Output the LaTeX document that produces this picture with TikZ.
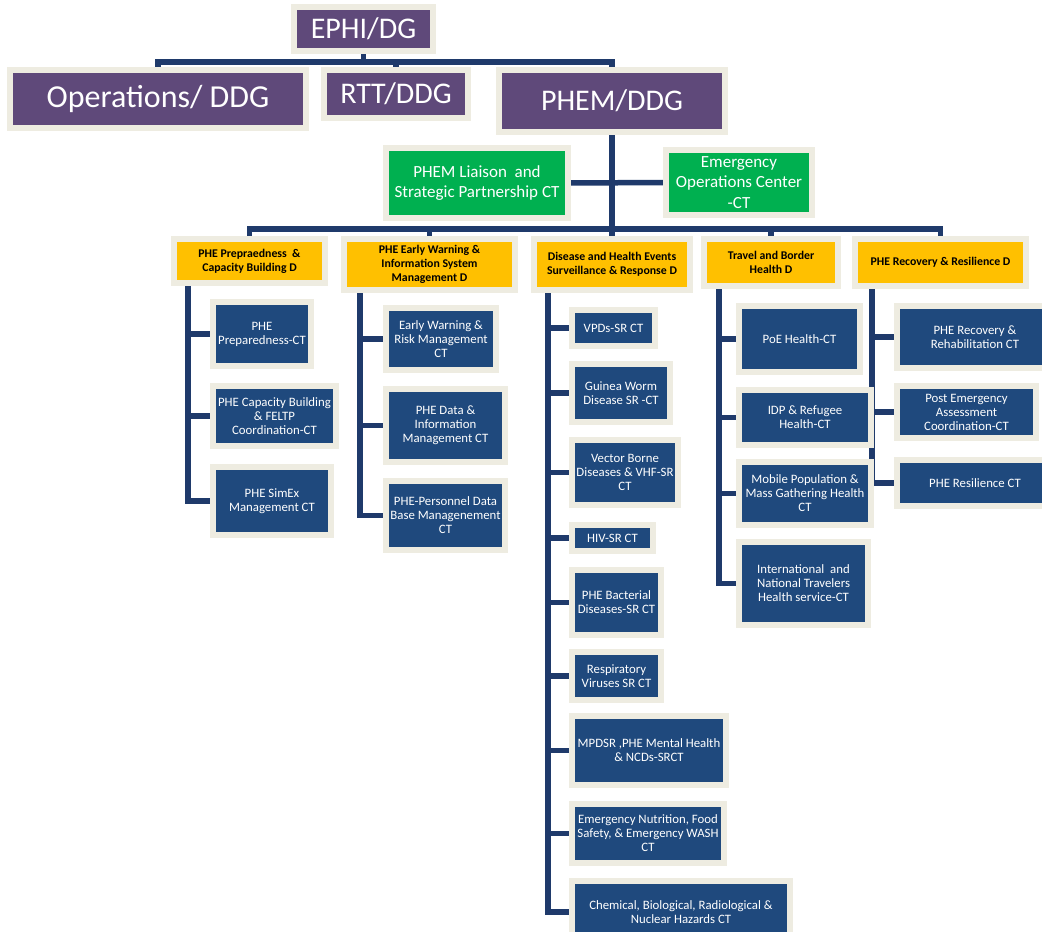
\documentclass[tikz,border=0pt]{standalone}
\usepackage{fontspec}
\setmainfont{Carlito}
\usetikzlibrary{backgrounds}
\definecolor{boxblue}{HTML}{1F497D}
\definecolor{conncol}{HTML}{1F3A6B}
\definecolor{purp}{HTML}{5F497A}
\definecolor{grn}{HTML}{00B050}
\definecolor{org}{HTML}{FFC000}
\definecolor{tanb}{HTML}{EEECE1}
\tikzset{
  base/.style={draw=tanb, line width=6pt, inner sep=0pt, outer sep=0pt, align=center, rectangle},
  purpbox/.style={base, fill=purp, text=white, font=\fontsize{30}{34}\selectfont},
  grnbox/.style={base, fill=grn, text=white, font=\fontsize{17}{20.5}\selectfont},
  hdbox/.style={base, fill=org, text=black, font=\fontsize{11.8}{14}\selectfont\bfseries},
  ctbox/.style={base, fill=boxblue, text=white, font=\fontsize{12.8}{14}\selectfont},
  conn/.style={draw=conncol, line width=5.5pt},
  sz/.style 2 args={minimum width=#1pt, minimum height=#2pt}
}
\begin{document}
\begin{tikzpicture}[x=1pt,y=-1pt]
\path[use as bounding box] (0,0) rectangle (1042,932);
\clip (0,0) rectangle (1042,932);
% top level
\node[purpbox, sz={139}{44}] (ephi) at (363.5,29) {EPHI/DG};
\node[purpbox, sz={296}{58}, font=\fontsize{32}{36}\selectfont] (ops) at (158,99) {Operations/ DDG};
\node[purpbox, sz={144}{48}] (rtt) at (396,94) {RTT/DDG};
\node[purpbox, sz={226}{62}] (phem) at (612,101) {PHEM/DDG};
\node[grnbox, sz={182}{70}] (liaison) at (477,183) {PHEM Liaison\ \ and\\Strategic Partnership CT};
\node[grnbox, sz={146}{65}] (eoc) at (739,182.5) {Emergency\\Operations Center\\-CT};
% directorates
\node[hdbox, sz={151}{44}] (hd1) at (249.5,261) {PHE Prepraedness\ \ \&\\Capacity Building D};
\node[hdbox, sz={171}{51}] (hd2) at (429.5,264.5) {PHE Early Warning \&\\Information System\\Management D};
\node[hdbox, sz={156}{51}] (hd3) at (612,264.5) {Disease and Health Events\\Surveillance \& Response D};
\node[hdbox, sz={134}{47}] (hd4) at (771,262.5) {Travel and Border\\Health D};
\node[hdbox, sz={171}{47}] (hd5) at (940.5,262.5) {PHE Recovery \& Resilience D};
% column 1
\node[ctbox, sz={98}{64}] (c11) at (262,334) {PHE\\Preparedness-CT};
\node[ctbox, sz={123}{60}] (c12) at (274.5,416) {PHE Capacity Building\\\& FELTP\\Coordination-CT};
\node[ctbox, sz={118}{68}] (c13) at (272,501) {PHE SimEx\\Management CT};
% column 2
\node[ctbox, sz={110}{62}] (c21) at (441,339) {Early Warning \&\\Risk Management\\CT};
\node[ctbox, sz={119}{73}] (c22) at (445.5,425.5) {PHE Data \&\\Information\\Management CT};
\node[ctbox, sz={119}{69}] (c23) at (445.5,515.5) {PHE-Personnel Data\\Base Managenement\\CT};
% column 3
\node[ctbox, sz={83}{36}] (c31) at (613.5,328) {VPDs-SR CT};
\node[ctbox, sz={98}{58}] (c32) at (621,393) {Guinea Worm\\Disease SR -CT};
\node[ctbox, sz={106}{65}] (c33) at (625,472.5) {Vector Borne\\Diseases \& VHF-SR\\CT};
\node[ctbox, sz={81}{26}] (c34) at (612.5,538) {HIV-SR CT};
\node[ctbox, sz={89}{65}] (c35) at (616.5,602.5) {PHE Bacterial\\Diseases-SR CT};
\node[ctbox, sz={89}{48}] (c36) at (616.5,676) {Respiratory\\Viruses SR CT};
\node[ctbox, sz={154}{69}] (c37) at (649,750.5) {MPDSR ,PHE Mental Health\\\& NCDs-SRCT};
\node[ctbox, sz={152}{59}] (c38) at (648,833.5) {Emergency Nutrition, Food\\Safety, \& Emergency WASH\\CT};
\node[ctbox, sz={218}{62}] (c39) at (681,912) {Chemical, Biological, Radiological \&\\Nuclear Hazards CT};
% column 4
\node[ctbox, sz={121}{66}] (c41) at (799.5,339) {PoE Health-CT};
\node[ctbox, sz={132}{55}] (c42) at (805,417.5) {IDP \& Refugee\\Health-CT};
\node[ctbox, sz={132}{63}] (c43) at (805,493.5) {Mobile Population \&\\Mass Gathering Health\\CT};
\node[ctbox, sz={129}{83}] (c44) at (803.5,583.5) {International\ \ and\\National Travelers\\Health service-CT};
% column 5
\node[ctbox, sz={156}{62}] (c51) at (975,337) {PHE Recovery \&\\Rehabilitation CT};
\node[ctbox, sz={139}{52}] (c52) at (966.5,412) {Post Emergency\\Assessment\\Coordination-CT};
\node[ctbox, sz={156}{46}] (c53) at (975,483) {PHE Resilience CT};
% connectors
\begin{scope}[on background layer]
\fill[white] (0,0) rectangle (1042,932);
\coordinate (busA) at (0,62);
\coordinate (busB) at (0,229);
\draw[conn] (ephi.south) -- (ephi.south |- busA);
\draw[conn] (ops.north) |- (busA -| phem.north) -- (phem.north);
\draw[conn] (rtt.north) -- (rtt.north |- busA);
\draw[conn] (phem.south) -- (hd3.north);
\draw[conn] (liaison.east) -- (eoc.west);
\draw[conn] (hd1.north) |- (busB -| hd5.north) -- (hd5.north);
\draw[conn] (hd2.north) -- (hd2.north |- busB);
\draw[conn] (hd4.north) -- (hd4.north |- busB);
\coordinate (v1) at (188,275);
\coordinate (v2) at (360,280);
\coordinate (v3) at (548,280);
\coordinate (v4) at (719,278);
\coordinate (v5) at (872,278);
\foreach \c in {c11,c12,c13} {\draw[conn] (v1) |- (\c.west);}
\foreach \c in {c21,c22,c23} {\draw[conn] (v2) |- (\c.west);}
\foreach \c in {c31,c32,c33,c34,c35,c36,c37,c38,c39} {\draw[conn] (v3) |- (\c.west);}
\foreach \c in {c41,c42,c43,c44} {\draw[conn] (v4) |- (\c.west);}
\foreach \c in {c51,c52,c53} {\draw[conn] (v5) |- (\c.west);}
\end{scope}
\end{tikzpicture}
\end{document}
